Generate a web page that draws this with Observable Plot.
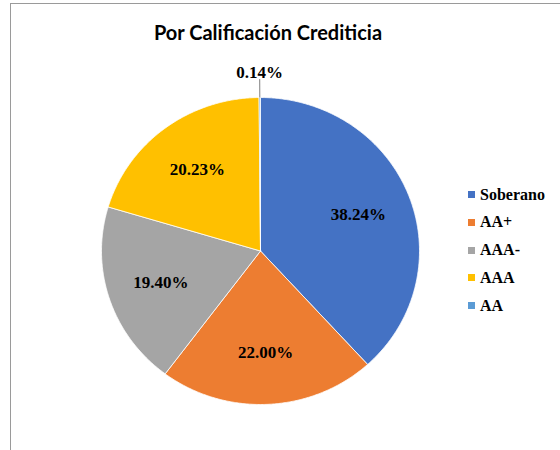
<!DOCTYPE html>
<html><head><meta charset="utf-8">
<script src="https://cdn.jsdelivr.net/npm/d3@7"></script>
<script src="https://cdn.jsdelivr.net/npm/@observablehq/plot@0.6"></script>
<style>
body{margin:0;background:#fff;}
#wrap{position:relative;width:560px;height:450px;overflow:hidden;background:#fff;}
#frame{position:absolute;left:10px;top:3px;width:700px;height:600px;border-left:1px solid #9a9a9a;border-top:1px solid #9a9a9a;box-sizing:border-box;}
#chart{position:absolute;left:0;top:0;}
#title{position:absolute;left:0;top:22px;width:536px;text-align:center;font-weight:bold;font-size:20px;font-family:Lato, sans-serif;color:#000;line-height:20px;white-space:nowrap;}
.lg{position:absolute;left:468px;height:20px;display:flex;align-items:center;font-weight:bold;font-size:16px;font-family:'Liberation Serif','Times New Roman','DejaVu Serif',serif;color:#000;white-space:nowrap;}
.sw{width:7px;height:7px;margin-right:5px;}
</style>
</head><body>
<div id="wrap">
  <div id="frame"></div>
  <div id="chart"></div>
  <div id="title">Por Calificación Crediticia</div>
</div>
<script>
const categories = ["Soberano", "AA+", "AAA-", "AAA", "AA"];
const values = [38.24, 22.00, 19.40, 20.23, 0.14];
const labels = ["38.24%", "22.00%", "19.40%", "20.23%", "0.14%"];
const colors = ["#4472C4", "#ED7D31", "#A5A5A5", "#FFC000", "#5B9BD5"];
const title = "Por Calificación Crediticia";

document.getElementById("title").textContent = title;

const serif = "'Liberation Serif','Times New Roman','DejaVu Serif',serif";
const arcs = d3.pie().sort(null).value(d => d)(values);

// slice outlines built from the pie angles (0 at 12 o'clock, clockwise)
const pts = [];
arcs.forEach((a, i) => {
  const cat = categories[i];
  pts.push({cat, x: 0, y: 0});
  const n = Math.max(2, Math.ceil((a.endAngle - a.startAngle) / (Math.PI / 360)));
  for (let k = 0; k <= n; k++) {
    const t = a.startAngle + (a.endAngle - a.startAngle) * k / n;
    pts.push({cat, x: Math.sin(t), y: Math.cos(t)});
  }
  pts.push({cat, x: 0, y: 0});
});

const inner = [], outer = [], leaders = [];
arcs.forEach((a, i) => {
  const m = (a.startAngle + a.endAngle) / 2;
  if (values[i] >= 1) {
    inner.push({x: 0.66 * Math.sin(m), y: 0.66 * Math.cos(m), text: labels[i]});
  } else {
    outer.push({x: 1.13 * Math.sin(m), y: 1.13 * Math.cos(m), text: labels[i]});
    leaders.push({x1: Math.sin(m), y1: Math.cos(m), x2: 1.12 * Math.sin(m), y2: 1.12 * Math.cos(m)});
  }
});

const cx = 260, cy = 250.5, rx = 159, ry = 153.5;
const chart = Plot.plot({
  width: 560, height: 450, margin: 0,
  x: {domain: [-cx / rx, (560 - cx) / rx], axis: null},
  y: {domain: [-(450 - cy) / ry, cy / ry], axis: null},
  color: {domain: categories, range: colors},
  style: {background: "transparent"},
  marks: [
    Plot.line(pts, {x: "x", y: "y", z: "cat", fill: "cat", stroke: "white", strokeWidth: 0.8, strokeLinejoin: "round"}),
    Plot.link(leaders, {x1: "x1", y1: "y1", x2: "x2", y2: "y2", stroke: "#7f7f7f", strokeWidth: 1}),
    Plot.text(inner, {x: "x", y: "y", text: "text", fontSize: 17, fontWeight: "bold", fontFamily: serif, fill: "#000"}),
    Plot.text(outer, {x: "x", y: "y", text: "text", fontSize: 17, fontWeight: "bold", fontFamily: serif, fill: "#000", lineAnchor: "bottom"})
  ]
});
document.getElementById("chart").appendChild(chart);

const wrap = document.getElementById("wrap");
categories.forEach((c, i) => {
  const row = document.createElement("div");
  row.className = "lg";
  row.style.top = (184.5 + i * 27.75) + "px";
  const sw = document.createElement("div");
  sw.className = "sw";
  sw.style.background = colors[i];
  row.appendChild(sw);
  const tx = document.createElement("span");
  tx.textContent = c;
  row.appendChild(tx);
  wrap.appendChild(row);
});
</script>
</body></html>
